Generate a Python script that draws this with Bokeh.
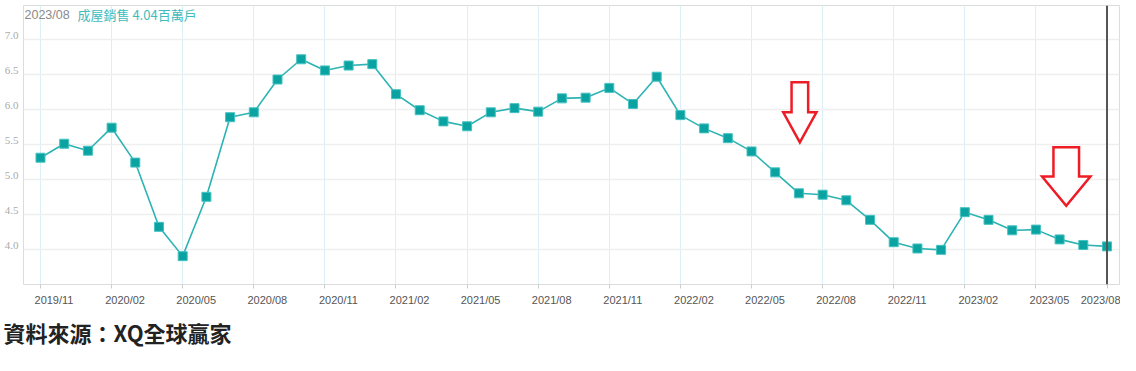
from bokeh.plotting import figure
from bokeh.models import (FixedTicker, NumeralTickFormatter, Span, Label, Title,
                          ColumnDataSource, Range1d, LinearAxis)
from bokeh.embed import file_html
from bokeh.resources import INLINE

months = ["2019/11", "2019/12", "2020/01", "2020/02", "2020/03", "2020/04", "2020/05",
          "2020/06", "2020/07", "2020/08", "2020/09", "2020/10", "2020/11", "2020/12",
          "2021/01", "2021/02", "2021/03", "2021/04", "2021/05", "2021/06", "2021/07",
          "2021/08", "2021/09", "2021/10", "2021/11", "2021/12", "2022/01", "2022/02",
          "2022/03", "2022/04", "2022/05", "2022/06", "2022/07", "2022/08", "2022/09",
          "2022/10", "2022/11", "2022/12", "2023/01", "2023/02", "2023/03", "2023/04",
          "2023/05", "2023/06", "2023/07", "2023/08"]
sales = [5.31, 5.51, 5.41, 5.74, 5.24, 4.32, 3.90, 4.75, 5.89, 5.96, 6.43, 6.72, 6.56,
         6.63, 6.65, 6.22, 5.99, 5.83, 5.76, 5.96, 6.02, 5.97, 6.16, 6.17, 6.31, 6.08,
         6.47, 5.92, 5.73, 5.59, 5.40, 5.10, 4.80, 4.78, 4.70, 4.42, 4.10, 4.01, 3.99,
         4.53, 4.42, 4.27, 4.28, 4.14, 4.06, 4.04]
y_ticks = [4.0, 4.5, 5.0, 5.5, 6.0, 6.5, 7.0]
header_date = "2023/08"
header_text = "成屋銷售 4.04百萬戶"
source_text = "資料來源：XQ全球贏家"
# arrow annotations: (center month index, top, neck, tip, shaft half width, head half width)
arrows = [(32.04, 6.39, 5.96, 5.53, 0.35, 0.70),
          (43.28, 5.46, 5.04, 4.62, 0.54, 1.02)]

X0, X1 = -0.717, 45.527
Y0, Y1 = 3.494, 7.49
D = 13.5 / 23.7      # x tick labels sit ~13px right of their ticks
E = 3.8 / 69.82      # y tick labels sit ~4px above their grid lines

xs = list(range(len(months)))
src = ColumnDataSource(dict(x=xs, y=sales, m=months))

p = figure(width=1120, height=355, output_backend="svg", toolbar_location=None,
           x_range=Range1d(X0, X1), y_range=Range1d(Y0, Y1),
           min_border_left=23, min_border_right=1, min_border_top=5, min_border_bottom=71)
p.background_fill_color = "white"
p.border_fill_color = "white"
p.outline_line_color = "#dcdcdc"
p.outline_line_width = 1
p.extra_x_ranges = {"xlab": Range1d(X0 - D, X1 - D)}
p.extra_y_ranges = {"ylab": Range1d(Y0 - E, Y1 - E)}

tick_idx = xs[::3]
xax = p.below[0]
xax.ticker = FixedTicker(ticks=tick_idx)
xax.major_label_overrides = {i: "" for i in tick_idx}
xax.axis_line_color = None
xax.major_tick_line_color = "#cccccc"
xax.major_tick_out = 4
xax.major_tick_in = 0
xax.minor_tick_line_color = None
xax.major_label_standoff = 0

lab_ticks = tick_idx[:-1] + [tick_idx[-1] - D]
lab_over = {t: months[i] for t, i in zip(lab_ticks, tick_idx)}
xlab = LinearAxis(x_range_name="xlab", ticker=FixedTicker(ticks=lab_ticks),
                  major_label_overrides=lab_over, axis_line_color=None,
                  major_tick_line_color=None, minor_tick_line_color=None,
                  major_tick_out=0, major_tick_in=0, major_label_standoff=5,
                  major_label_text_font="Liberation Sans", major_label_text_font_size="11px",
                  major_label_text_color="#555555")
p.add_layout(xlab, "below")

yax = p.left[0]
yax.ticker = FixedTicker(ticks=y_ticks)
yax.visible = False
ylab = LinearAxis(y_range_name="ylab", ticker=FixedTicker(ticks=y_ticks),
                  formatter=NumeralTickFormatter(format="0.0"), axis_line_color=None,
                  major_tick_line_color=None, minor_tick_line_color=None,
                  major_tick_out=0, major_tick_in=0, major_label_standoff=5,
                  major_label_text_font="Liberation Serif",
                  major_label_text_font_size="11px", major_label_text_color="#aaaaaa")
p.add_layout(ylab, "left")

p.xgrid.ticker = FixedTicker(ticks=tick_idx)
p.xgrid.grid_line_color = "#dbeff7"
p.xgrid.grid_line_width = 1
p.ygrid.ticker = FixedTicker(ticks=y_ticks)
p.ygrid.grid_line_color = "#efefef"
p.ygrid.grid_line_width = 1.5

p.line("x", "y", source=src, line_color="#2db3b3", line_width=1.6)
p.scatter("x", "y", source=src, marker="square", size=9,
          fill_color="#0ba3a2", line_color="#45c2c2", line_width=1)

p.add_layout(Span(location=xs[-1], dimension="height", line_color="#555555", line_width=2))

for cx, top, neck, tip, sw, hw in arrows:
    px = [cx - sw, cx + sw, cx + sw, cx + hw, cx, cx - hw, cx - sw, cx - sw]
    py = [top, top, neck, neck, tip, neck, neck, top]
    p.patch(px, py, fill_color="white", line_color="#ee1c25", line_width=2.5,
            line_join="miter")

p.add_layout(Label(x=-0.675, y=7.361, text=header_date, text_baseline="middle",
                   text_font="Liberation Sans", text_font_size="12.5px",
                   text_color="#8a8a8a"))
p.add_layout(Label(x=1.56, y=7.361, text=header_text, text_baseline="middle",
                   text_font="Noto Sans CJK TC", text_font_size="13px",
                   text_color="#3fbcbc"))

t = Title(text=source_text, align="left", offset=-20, standoff=11,
          text_font="Noto Sans CJK TC", text_font_size="22px", text_font_style="bold",
          text_color="#222222")
p.add_layout(t, "below")

open("out.html", "w").write(file_html(p, INLINE))
